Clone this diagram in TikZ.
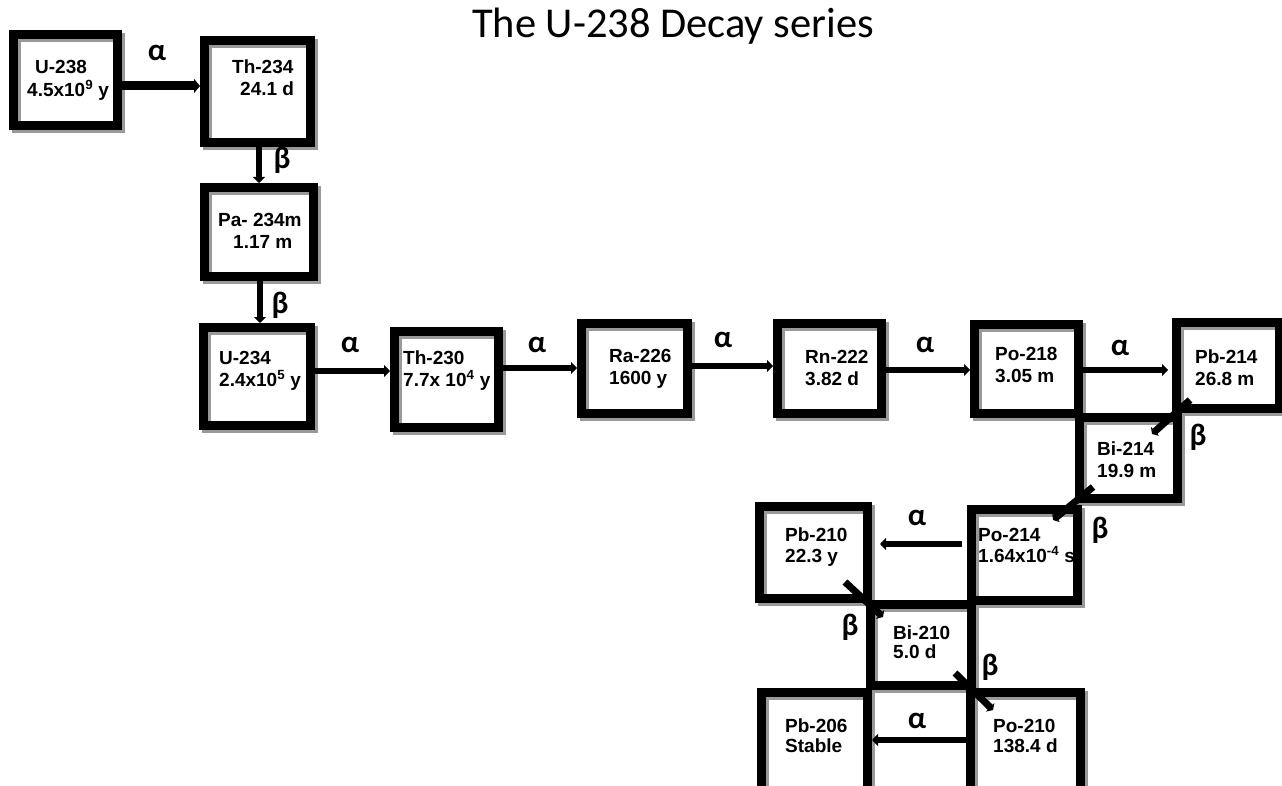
\documentclass[tikz,border=0pt]{standalone}
\usepackage{fontspec}
\setmainfont{Liberation Sans}
\newfontfamily\calfont{Carlito}
\usetikzlibrary{arrows.meta,calc}
\pgfdeclarelayer{bg}
\pgfsetlayers{bg,main}
\newcommand\twoline[3][0pt]{\begin{tabular}[t]{@{}l@{}}#2\\[#1]#3\end{tabular}}
\begin{document}
\begin{tikzpicture}[x=1pt,y=-1pt,
  box/.style={draw, line width=9pt, inner sep=0pt},
  lab/.style={anchor=base west, inner sep=0pt, font=\fontsize{19}{22}\selectfont\bfseries},
  greek/.style={inner sep=0pt, font=\calfont\fontsize{31}{34}\selectfont\bfseries},
  arr/.style={line width=6.5pt, -{Triangle[width=12pt,length=6pt]}},
  darr/.style={line width=7pt, -{Triangle[width=12pt,length=4pt]}},
  shadowline/.style={draw=black!40, line width=9pt}]
\useasboundingbox (0,0) rectangle (1282,786);
\clip (0,0) rectangle (1282,786);
% title
\node[anchor=base, inner sep=0pt, font=\calfont\fontsize{42.5}{50}\selectfont] (title) at (673,38) {The U-238 Decay series};
% boxes
\node[box, minimum width=104pt, minimum height=91pt]  (u238)  at (65.5,80) {};
\node[box, minimum width=106pt, minimum height=102pt] (th234) at (257.5,91.5) {};
\node[box, minimum width=109pt, minimum height=89pt]  (pa234) at (259,232) {};
\node[box, minimum width=107pt, minimum height=98pt]  (u234)  at (257,376.5) {};
\node[box, minimum width=104pt, minimum height=96pt]  (th230) at (446.5,379.5) {};
\node[box, minimum width=106pt, minimum height=90pt]  (ra226) at (634.5,368.5) {};
\node[box, minimum width=104pt, minimum height=90pt]  (rn222) at (829.5,368.5) {};
\node[box, minimum width=104pt, minimum height=89pt]  (po218) at (1026.5,369) {};
\node[box, minimum width=103pt, minimum height=86pt]  (pb214) at (1228,365.5) {};
\node[box, minimum width=98pt,  minimum height=81pt]  (bi214) at (1128.5,458) {};
\node[box, minimum width=106pt, minimum height=91pt]  (po214) at (1024.5,555) {};
\node[box, minimum width=108pt, minimum height=92pt]  (pb210) at (813.5,552.5) {};
\node[box, minimum width=101pt, minimum height=81pt]  (bi210) at (921,645) {};
\node[box, minimum width=106pt, minimum height=103pt] (pb206) at (814.5,744) {};
\node[box, minimum width=110pt, minimum height=103pt] (po210) at (1025.5,744) {};
% shadows
\begin{pgfonlayer}{bg}
\foreach \n in {u238,th234,pa234,u234,th230,ra226,rn222,po218,pb214,bi214,po214,pb210,bi210,pb206,po210}
  \draw[shadowline] ([shift={(7.5,7.5)}]\n.north west) rectangle ([shift={(-1.5,-1.5)}]\n.south east);
\end{pgfonlayer}
% texts
\node[lab] (u238t)  at (27,74)   {\twoline{\hspace*{8pt}U-238}{4.5x10\textsuperscript{9} y}};
\node[lab] (th234t) at (232,74)  {\twoline{Th-234}{\hspace*{8pt}24.1 d}};
\node[lab] (pa234t) at (218,227) {\twoline{Pa- 234m}{\hspace*{15pt}1.17 m}};
\node[lab] (u234t)  at (219,364) {\twoline{U-234}{2.4x10\textsuperscript{5} y}};
\node[lab] (th230t) at (403,364) {\twoline{Th-230}{7.7x 10\textsuperscript{4} y}};
\node[lab] (ra226t) at (609,362) {\twoline{Ra-226}{1600 y}};
\node[lab] (rn222t) at (805,363) {\twoline{Rn-222}{3.82 d}};
\node[lab] (po218t) at (995,360) {\twoline{Po-218}{3.05 m}};
\node[lab] (pb214t) at (1195,363) {\twoline{Pb-214}{26.8 m}};
\node[lab] (bi214t) at (1097,455) {\twoline{Bi-214}{19.9 m}};
\node[lab] (po214t) at (978,541) {\twoline[-1pt]{Po-214}{1.64x10\textsuperscript{-4} s}};
\node[lab] (pb210t) at (785,541) {\twoline[-1pt]{Pb-210}{22.3 y}};
\node[lab] (bi210t) at (893,639) {\twoline[-3pt]{Bi-210}{5.0 d}};
\node[lab] (pb206t) at (785,732) {\twoline[-2pt]{Pb-206}{Stable}};
\node[lab] (po210t) at (993,732) {\twoline[-2pt]{Po-210}{138.4 d}};
% arrows
\draw[arr, line width=9pt, -{Triangle[width=14pt,length=6pt]}] (u238.east |- 0,86) -- (th234.west |- 0,86);
\draw[arr] (th234.south -| 259,0) -- (pa234.north -| 259,0);
\draw[arr] (pa234.south -| 260,0) -- (u234.north -| 260,0);
\draw[arr] (u234.east |- 0,371) -- (th230.west |- 0,371);
\draw[arr] (th230.east |- 0,368) -- (ra226.west |- 0,368);
\draw[arr] (ra226.east |- 0,366) -- (rn222.west |- 0,366);
\draw[arr] (rn222.east |- 0,370) -- (po218.west |- 0,370);
\draw[arr] (po218.east |- 0,370) -- ([xshift=-4pt]pb214.west |- 0,370);
\draw[darr] ([shift={(18,-13)}]pb214.south west) -- ([shift={(-30,21)}]bi214.north east);
\draw[darr] ([shift={(18,-16)}]bi214.south west) -- ([shift={(-29,15)}]po214.north east);
\draw[arr] ([xshift=-5pt]po214.west |- 0,544) -- ([xshift=8pt]pb210.east |- 0,544);
\draw[darr] ([shift={(-27,-21)}]pb210.south east) -- ([shift={(17,17)}]bi210.north west);
\draw[darr] ([shift={(-21,-17)}]bi210.south east) -- ([shift={(27,22)}]po210.north west);
\draw[arr] ([xshift=2pt]po210.west |- 0,740) -- (pb206.east |- 0,740);
% decay labels
\node[greek] (a1) at (157,53)  {α};
\node[greek] (a2) at (350,345) {α};
\node[greek] (a3) at (537,345) {α};
\node[greek] (a4) at (723,340) {α};
\node[greek] (a5) at (925,345) {α};
\node[greek] (a6) at (1120,348) {α};
\node[greek] (a7) at (917,518) {α};
\node[greek] (a8) at (917,721) {α};
\node[greek] (b1) at (282,160) {β};
\node[greek] (b2) at (280,305) {β};
\node[greek] (b3) at (1198,437) {β};
\node[greek] (b4) at (1100,530) {β};
\node[greek] (b5) at (850,627) {β};
\node[greek] (b6) at (990,667) {β};
\end{tikzpicture}
\end{document}
